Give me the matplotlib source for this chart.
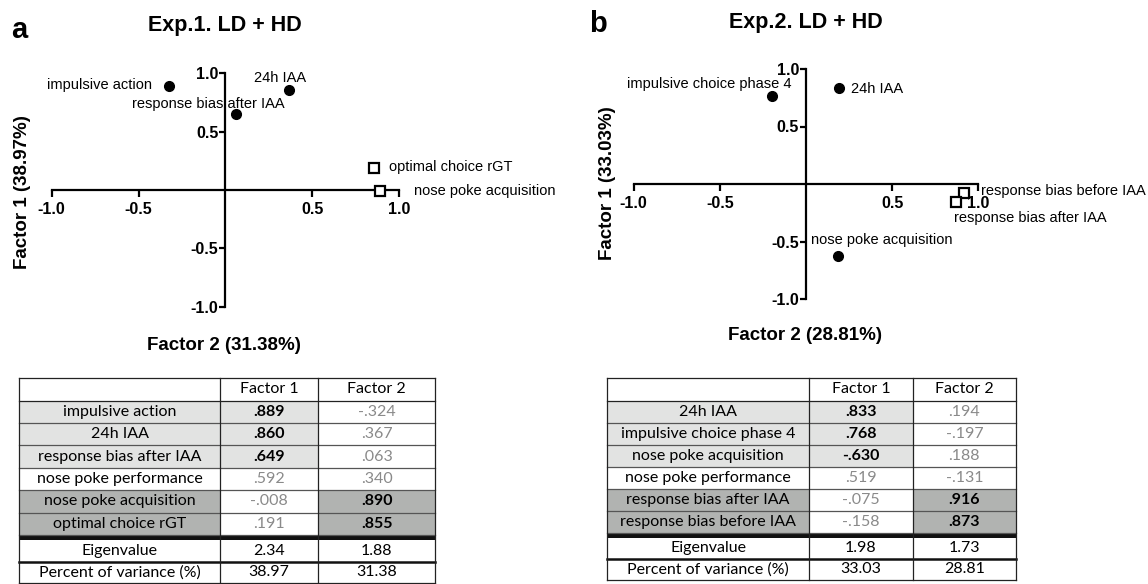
import matplotlib
matplotlib.use("Agg")
import matplotlib.pyplot as plt
from matplotlib.patches import Rectangle

# ---------------- data ----------------
a_items = ["impulsive action", "24h IAA", "response bias after IAA",
           "nose poke performance", "nose poke acquisition", "optimal choice rGT"]
a_factor1 = [0.889, 0.860, 0.649, 0.592, -0.008, 0.191]
a_factor2 = [-0.324, 0.367, 0.063, 0.340, 0.890, 0.855]
a_group = [1, 1, 1, 0, 2, 2]          # factor the item loads on (0 = none)
a_eigen = [2.34, 1.88]
a_pct = [38.97, 31.38]

b_items = ["24h IAA", "impulsive choice phase 4", "nose poke acquisition",
           "nose poke performance", "response bias after IAA", "response bias before IAA"]
b_factor1 = [0.833, 0.768, -0.630, 0.519, -0.075, -0.158]
b_factor2 = [0.194, -0.197, 0.188, -0.131, 0.916, 0.873]
b_group = [1, 1, 1, 0, 2, 2]
b_eigen = [1.98, 1.73]
b_pct = [33.03, 28.81]

tick_vals = [-1.0, -0.5, 0.5, 1.0]
tick_labels = ["-1.0", "-0.5", "0.5", "1.0"]

# ---------------- layout ----------------
W, H = 1148, 584
fig = plt.figure(figsize=(W / 100, H / 100), dpi=100)
bg = fig.add_axes([0, 0, 1, 1])
bg.set_xlim(0, W)
bg.set_ylim(H, 0)
bg.axis("off")

PF = "Liberation Sans"
TF = "Lato"
LIGHT = "#e2e3e2"
DARK = "#b1b3b1"
GRAYTXT = "#8a8a8a"

# label offsets in pixels (dx, dy, ha)
a_offsets = {
    "impulsive action": (-17, -1, "right"),
    "24h IAA": (-9, -12, "center"),
    "response bias after IAA": (-28, -10, "center"),
    "optimal choice rGT": (15, -1, "left"),
    "nose poke acquisition": (34, 0, "left"),
}
b_offsets = {
    "24h IAA": (12, 1, "left"),
    "impulsive choice phase 4": (19, -12, "right"),
    "nose poke acquisition": (-27, -16, "left"),
    "response bias after IAA": (17, -2, "left"),
    "response bias before IAA": (-2, 16, "left"),
}
# the reference shows labels of the two squares in panel b swapped positions
b_label_swap = {"response bias after IAA": "response bias before IAA",
                "response bias before IAA": "response bias after IAA"}


def make_plot(box, items, f1, f2, group, offsets, swap=None):
    l, r, t, b = box
    ax = fig.add_axes([l / W, 1 - b / H, (r - l) / W, (b - t) / H])
    ax.patch.set_alpha(0)
    ax.set_xlim(-1, 1)
    ax.set_ylim(-1, 1)
    for s in ["top", "right"]:
        ax.spines[s].set_visible(False)
    for s in ["left", "bottom"]:
        ax.spines[s].set_position(("data", 0))
        ax.spines[s].set_linewidth(1.6)
    ax.set_xticks(tick_vals)
    ax.set_xticklabels(tick_labels, fontsize=11.5, fontweight="bold", family=PF)
    ax.set_yticks(tick_vals)
    ax.set_yticklabels(tick_labels, fontsize=11.5, fontweight="bold", family=PF)
    ax.tick_params(axis="x", direction="out", length=5, width=1.6, pad=3.5)
    ax.tick_params(axis="y", direction="out", length=4, width=1.6, pad=1)
    for name, y, x, g in zip(items, f1, f2, group):
        if g == 0:
            continue
        if g == 1:
            ax.plot(x, y, "o", ms=7, color="black", clip_on=False, zorder=5)
        else:
            ax.plot(x, y, "s", ms=7.5, mfc="white", mec="black", mew=1.6,
                    clip_on=False, zorder=5)
        dx, dy, ha = offsets[name]
        text = swap.get(name, name) if swap else name
        ax.annotate(text, (x, y), xytext=(dx * 0.72, -dy * 0.72),
                    textcoords="offset points", ha=ha, va="center",
                    fontsize=10.5, family=PF, annotation_clip=False)
    return ax


make_plot((51.7, 398.9, 73.3, 306.7), a_items, a_factor1, a_factor2, a_group, a_offsets)
make_plot((633.7, 978.2, 69, 299), b_items, b_factor1, b_factor2, b_group, b_offsets,
          swap=b_label_swap)

# titles, letters, axis labels
bg.text(19, 38, "a", fontsize=21, fontweight="bold", family=PF, ha="center", va="baseline")
bg.text(598, 32, "b", fontsize=21, fontweight="bold", family=PF, ha="center", va="baseline")
bg.text(225, 31, "Exp.1. LD + HD", fontsize=15.5, fontweight="bold", family=PF,
        ha="center", va="baseline")
bg.text(806, 28, "Exp.2. LD + HD", fontsize=15.5, fontweight="bold", family=PF,
        ha="center", va="baseline")
bg.text(224, 345, "Factor 2 (31.38%)", fontsize=13.5, fontweight="bold", family=PF,
        ha="center", va="center")
bg.text(805, 335, "Factor 2 (28.81%)", fontsize=13.5, fontweight="bold", family=PF,
        ha="center", va="center")
bg.text(23, 192, "Factor 1 (38.97%)", fontsize=13.5, fontweight="bold", family=PF,
        ha="center", va="center", rotation=90)
bg.text(608, 183, "Factor 1 (33.03%)", fontsize=13.5, fontweight="bold", family=PF,
        ha="center", va="center", rotation=90)


def fmt_load(v):
    s = f"{v:.3f}"
    return s.replace("0.", ".", 1)


def make_table(xs, top, head_h, row_h, band_h, eig_h, pct_h,
               items, f1, f2, group, eigen, pct):
    x0, x1, x2, x3 = xs
    fs = 11.5
    # header
    y = top
    bg.text((x1 + x2) / 2, y + head_h / 2, "Factor 1", fontsize=fs, family=TF,
            ha="center", va="center")
    bg.text((x2 + x3) / 2, y + head_h / 2, "Factor 2", fontsize=fs, family=TF,
            ha="center", va="center")
    hlines = [y]
    y += head_h
    hlines.append(y)
    for name, v1, v2, g in zip(items, f1, f2, group):
        if g == 1:
            bg.add_patch(Rectangle((x0, y), x1 - x0, row_h, color=LIGHT, lw=0))
            bg.add_patch(Rectangle((x1, y), x2 - x1, row_h, color=LIGHT, lw=0))
        elif g == 2:
            bg.add_patch(Rectangle((x0, y), x1 - x0, row_h, color=DARK, lw=0))
            bg.add_patch(Rectangle((x2, y), x3 - x2, row_h, color=DARK, lw=0))
        cy = y + row_h / 2
        bg.text((x0 + x1) / 2, cy, name, fontsize=fs, family=TF, ha="center", va="center")
        bg.text((x1 + x2) / 2, cy, fmt_load(v1), fontsize=fs, family=TF,
                ha="center", va="center",
                fontweight="bold" if g == 1 else "normal",
                color="black" if g == 1 else GRAYTXT)
        bg.text((x2 + x3) / 2, cy, fmt_load(v2), fontsize=fs, family=TF,
                ha="center", va="center",
                fontweight="bold" if g == 2 else "normal",
                color="black" if g == 2 else GRAYTXT)
        y += row_h
        hlines.append(y)
    # thick black band
    bg.add_patch(Rectangle((x0, y), x3 - x0, band_h, color="#111111", lw=0))
    y += band_h
    cy = y + eig_h / 2
    bg.text((x0 + x1) / 2, cy, "Eigenvalue", fontsize=fs, family=TF, ha="center", va="center")
    bg.text((x1 + x2) / 2, cy, f"{eigen[0]:.2f}", fontsize=fs, family=TF, ha="center", va="center")
    bg.text((x2 + x3) / 2, cy, f"{eigen[1]:.2f}", fontsize=fs, family=TF, ha="center", va="center")
    y += eig_h
    bg.plot([x0, x3], [y, y], color="#111111", lw=1.8)
    cy = y + pct_h / 2
    bg.text((x0 + x1) / 2, cy, "Percent of variance (%)", fontsize=fs, family=TF,
            ha="center", va="center")
    bg.text((x1 + x2) / 2, cy, f"{pct[0]:.2f}", fontsize=fs, family=TF, ha="center", va="center")
    bg.text((x2 + x3) / 2, cy, f"{pct[1]:.2f}", fontsize=fs, family=TF, ha="center", va="center")
    y += pct_h
    bottom = y
    for i, hy in enumerate(hlines):
        bg.plot([x0, x3], [hy, hy], color="#222222" if i in (0, 1) else "#555555", lw=0.9)
    bg.plot([x0, x3], [bottom, bottom], color="#222222", lw=0.9)
    for vx in (x0, x1, x2, x3):
        bg.plot([vx, vx], [top, bottom], color="#222222", lw=0.9)


make_table((19.3, 220, 318.3, 435), 378, 22.7, 22.4, 4.7, 22, 21.2,
           a_items, a_factor1, a_factor2, a_group, a_eigen, a_pct)
make_table((606.7, 809.3, 912.7, 1016), 378, 22.7, 22.1, 4.4, 21, 21.5,
           b_items, b_factor1, b_factor2, b_group, b_eigen, b_pct)

fig.savefig("out.png", dpi=100)
